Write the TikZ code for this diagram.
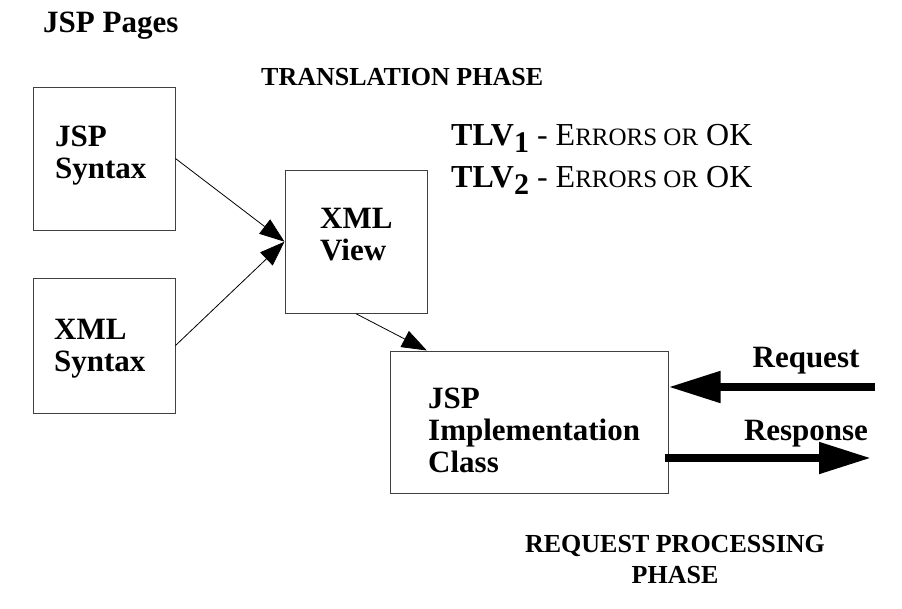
\documentclass[tikz,border=0pt]{standalone}
\usepackage{fontspec}
\setmainfont{Liberation Serif}
\usetikzlibrary{arrows.meta}

\newcommand{\smcap}[1]{{\fontsize{25}{25}\selectfont #1}}
\newcommand{\tlvsub}[1]{\raisebox{-7.5pt}{\fontsize{30}{30}\selectfont #1}}

\begin{document}
\begin{tikzpicture}[x=1pt, y=-1pt,
	boxnode/.style={fill=white, draw=black!75, line width=1pt, shape=rectangle},
	thinarrow/.style={fill=none, line width=0.8pt, -{Triangle[length=25pt, width=18pt]}},
	fatarrow/.style={fill=none, line width=8pt, -{Triangle[length=52pt, width=30pt]}},
	labelnode/.style={inner sep=0pt, align=left, font=\fontsize{31}{32}\selectfont\bfseries},
	phasenode/.style={inner sep=0pt, align=center, font=\fontsize{26}{31}\selectfont\bfseries},
	tlvnode/.style={inner sep=0pt, anchor=base west, font=\fontsize{32}{34}\selectfont}]
	\useasboundingbox (0, 0) rectangle (902, 608);
	% boxes
	\node [boxnode, minimum width=142pt, minimum height=143pt] (0) at (104, 158.5) {};
	\node [boxnode, minimum width=142pt, minimum height=135pt] (1) at (104, 345.5) {};
	\node [boxnode, minimum width=142pt, minimum height=143pt] (2) at (356, 241.7) {};
	\node [boxnode, minimum width=278pt, minimum height=142pt] (3) at (529, 422) {};
	% box texts
	\node [labelnode, anchor=base west] (4) at (55, 178) {JSP\\Syntax};
	\node [labelnode, anchor=base west] (5) at (54, 371) {XML\\Syntax};
	\node [labelnode, anchor=base west] (6) at (320, 260) {XML\\View};
	\node [labelnode, anchor=base west] (7) at (428, 472) {JSP\\Implementation\\Class};
	% free texts
	\node [labelnode, anchor=base west] (8) at (43, 32) {JSP Pages};
	\node [phasenode, anchor=base west] (9) at (261, 85) {TRANSLATION PHASE};
	\node [tlvnode] (10) at (451, 145) {\textbf{TLV\tlvsub{1}} - E\smcap{RRORS OR} OK};
	\node [tlvnode] (11) at (451, 187) {\textbf{TLV\tlvsub{2}} - E\smcap{RRORS OR} OK};
	\node [labelnode, anchor=base] (12) at (806, 367) {Request};
	\node [labelnode, anchor=base] (13) at (806, 440) {Response};
	\node [phasenode, anchor=base] (14) at (675, 583) {REQUEST PROCESSING\\PHASE};
	\coordinate (15) at (875, 387);
	\coordinate (16) at (871, 458);
	\draw [thinarrow] (0.east) to (2.west);
	\draw [thinarrow] (1.east) to (2.west);
	\draw [thinarrow] (2.south) to (3.145);
	\draw [fatarrow] (15) to (3.east |- 15);
	\draw [fatarrow] ([xshift=-4pt]3.east |- 16) to (16);
\end{tikzpicture}
\end{document}
